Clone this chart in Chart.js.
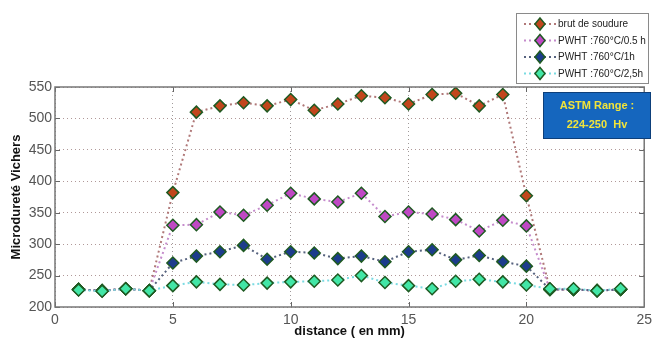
<!DOCTYPE html>
<html>
<head>
<meta charset="utf-8">
<script src="https://cdn.jsdelivr.net/npm/chart.js@4/dist/chart.umd.min.js"></script>
<style>
html,body{margin:0;padding:0;background:#fff;}
#c{display:block;}
</style>
</head>
<body>
<canvas id="c" width="657" height="342"></canvas>
<script>
// ---- data ----
const distance = [1,2,3,4,5,6,7,8,9,10,11,12,13,14,15,16,17,18,19,20,21,22,23,24];
const brutDeSoudure = [228,226,229,226,382,510,520,525,520,530,513,523,536,533,523,538,540,520,538,377,228,228,226,228];
const pwht05h = [228,226,229,226,330,331,351,346,362,381,372,367,381,344,351,348,339,321,338,329,228,228,226,228];
const pwht1h = [228,226,229,226,270,281,288,298,276,288,286,277,281,272,288,291,275,282,272,265,228,228,226,228];
const pwht25h = [227,225,229,226,234,240,236,235,238,240,241,243,250,239,234,229,241,244,240,235,229,229,226,229];
const seriesNames = ['brut de soudure','PWHT :760°C/0.5 h','PWHT :760°C/1h','PWHT :760°C/2,5h'];
const xTicks = [0,5,10,15,20,25];
const yTicks = [200,250,300,350,400,450,500,550];
const astmLines = ['ASTM Range :','224-250  Hv'];

const pts = arr => arr.map((v,i)=>({x:distance[i], y:v}));

const styles = [
  {line:'#b07878', fill:'#c2461c'},
  {line:'#c58ccc', fill:'#bf48c4'},
  {line:'#56627e', fill:'#1c3c8c'},
  {line:'#7adbe2', fill:'#42e6a6'}
];
const allSeries = [brutDeSoudure, pwht05h, pwht1h, pwht25h];
const datasets = allSeries.map((s,i)=>({
  label: seriesNames[i],
  data: pts(s),
  borderColor: styles[i].line,
  borderWidth: 2,
  borderDash: [2,3],
  pointStyle: 'rectRot',
  pointRadius: 6,
  pointBorderWidth: 1.5,
  pointBackgroundColor: styles[i].fill,
  pointBorderColor: '#1f5a22',
  fill: false,
  tension: 0,
  order: 4 - i
}));

const boxPlugin = {
  id: 'boxPlugin',
  afterDraw(chart) {
    const ctx = chart.ctx, a = chart.chartArea;
    const xs = chart.scales.x, ys = chart.scales.y;
    ctx.save();
    // inward ticks
    ctx.strokeStyle = '#666';
    ctx.lineWidth = 1;
    xTicks.forEach(t=>{
      const px = Math.round(xs.getPixelForValue(t))+0.5;
      ctx.beginPath(); ctx.moveTo(px, a.bottom); ctx.lineTo(px, a.bottom-5); ctx.stroke();
      ctx.beginPath(); ctx.moveTo(px, a.top); ctx.lineTo(px, a.top+5); ctx.stroke();
    });
    yTicks.forEach(t=>{
      const py = Math.round(ys.getPixelForValue(t))+0.5;
      ctx.beginPath(); ctx.moveTo(a.left, py); ctx.lineTo(a.left+5, py); ctx.stroke();
      ctx.beginPath(); ctx.moveTo(a.right, py); ctx.lineTo(a.right-5, py); ctx.stroke();
    });
    // box
    ctx.strokeStyle = '#777';
    ctx.lineWidth = 1.5;
    ctx.strokeRect(a.left, a.top, a.right-a.left, a.bottom-a.top);

    // ASTM box
    const bx = 543, by = 92, bw = 108, bh = 47;
    ctx.fillStyle = '#1566be';
    ctx.fillRect(bx, by, bw, bh);
    ctx.strokeStyle = '#0d3f7a';
    ctx.lineWidth = 1;
    ctx.strokeRect(bx+0.5, by+0.5, bw-1, bh-1);
    ctx.fillStyle = '#f2e43a';
    ctx.font = 'bold 11px "Liberation Sans Narrow", "Liberation Sans", Arial, sans-serif';
    ctx.textAlign = 'center';
    ctx.textBaseline = 'middle';
    ctx.fillText(astmLines[0], bx+bw/2, by+14);
    ctx.fillText(astmLines[1], bx+bw/2, by+33);

    // legend
    const lx = 516, ly = 13, lw = 132, lh = 70;
    ctx.fillStyle = '#fff';
    ctx.fillRect(lx, ly, lw, lh);
    ctx.strokeStyle = '#8a8a8a';
    ctx.lineWidth = 1;
    ctx.strokeRect(lx+0.5, ly+0.5, lw, lh);
    chart.data.datasets.forEach((ds,i)=>{
      const yy = ly + 11 + i*16.5;
      ctx.save();
      ctx.strokeStyle = ds.borderColor;
      ctx.lineWidth = 2;
      ctx.setLineDash([2,3]);
      ctx.beginPath(); ctx.moveTo(lx+8, yy); ctx.lineTo(lx+40, yy); ctx.stroke();
      ctx.restore();
      // diamond
      ctx.beginPath();
      ctx.moveTo(lx+24, yy-6); ctx.lineTo(lx+29, yy); ctx.lineTo(lx+24, yy+6); ctx.lineTo(lx+19, yy); ctx.closePath();
      ctx.fillStyle = ds.pointBackgroundColor; ctx.fill();
      ctx.strokeStyle = ds.pointBorderColor; ctx.lineWidth = 1.5; ctx.stroke();
      ctx.fillStyle = '#222';
      ctx.font = '10px "Liberation Sans Narrow", "Liberation Sans", Arial, sans-serif';
      ctx.textAlign = 'left';
      ctx.textBaseline = 'middle';
      ctx.fillText(ds.label, lx+42, yy+0.5);
    });
    ctx.restore();
  }
};

const bgPlugin = {
  id:'bg',
  beforeDraw(chart){ const c=chart.ctx; c.save(); c.fillStyle='#fff'; c.fillRect(0,0,chart.width,chart.height); c.restore(); }
};

new Chart(document.getElementById('c'), {
  type: 'line',
  data: { datasets },
  options: {
    responsive: false,
    animation: false,
    layout: { padding: { left: 0, top: 87, right: 6, bottom: 0 } },
    plugins: { legend: { display: false }, tooltip: { enabled: false } },
    scales: {
      x: {
        type: 'linear', min: 0, max: 25,
        afterBuildTicks: s => { s.ticks = xTicks.map(v=>({value:v})); },
        afterFit: s => { s.height = 35; },
        grid: { color: '#a09a9a', borderDash: [1,3], drawTicks: false, lineWidth: 1 },
        border: { display: false, dash: [1,3] },
        ticks: { padding: 5, color: '#555', font: { family: '"Liberation Sans Narrow", "Liberation Sans", Arial, sans-serif', size: 14 }, maxRotation: 0 },
        title: { display: true, text: 'distance ( en mm)', color: '#111', padding: { top: 0, bottom: 3 }, font: { family: '"Liberation Sans", Arial, sans-serif', size: 13, weight: 'bold' } }
      },
      y: {
        min: 200, max: 550,
        afterBuildTicks: s => { s.ticks = yTicks.map(v=>({value:v})); },
        afterFit: s => { s.width = 55; },
        grid: { color: '#b09898', borderDash: [1,3], drawTicks: false, lineWidth: 1 },
        border: { display: false, dash: [1,3] },
        ticks: { padding: 3, color: '#555', font: { family: '"Liberation Sans Narrow", "Liberation Sans", Arial, sans-serif', size: 14 } },
        title: { display: true, text: 'Microdureté Vichers', color: '#111', padding: { top: 9, bottom: 0 }, font: { family: '"Liberation Sans", Arial, sans-serif', size: 13, weight: 'bold' } }
      }
    }
  },
  plugins: [bgPlugin, boxPlugin]
});
</script>
</body>
</html>
